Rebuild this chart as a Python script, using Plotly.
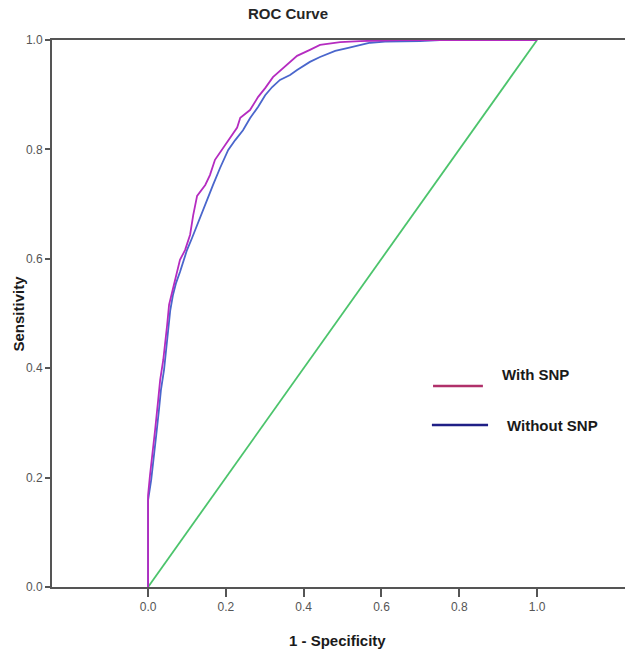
import plotly.graph_objects as go

# ROC curve data (1 - specificity, sensitivity)
with_snp_fpr = [0, 0, 0.005, 0.010, 0.018, 0.026, 0.031, 0.039, 0.044, 0.049, 0.054, 0.057,
                0.064, 0.072, 0.082, 0.095, 0.108, 0.116, 0.126, 0.147, 0.159, 0.172, 0.190,
                0.211, 0.229, 0.237, 0.262, 0.283, 0.301, 0.321, 0.347, 0.383, 0.416, 0.442,
                0.494, 0.545, 0.648, 1.0]
with_snp_tpr = [0, 0.168, 0.205, 0.241, 0.287, 0.342, 0.378, 0.415, 0.442, 0.479, 0.516, 0.525,
                0.543, 0.570, 0.598, 0.616, 0.644, 0.680, 0.715, 0.735, 0.753, 0.781, 0.799,
                0.821, 0.840, 0.858, 0.872, 0.896, 0.912, 0.932, 0.949, 0.971, 0.982, 0.991,
                0.996, 0.998, 1.0, 1.0]

without_snp_fpr = [0, 0, 0.008, 0.013, 0.021, 0.028, 0.033, 0.041, 0.046, 0.051, 0.057, 0.064,
                   0.072, 0.082, 0.090, 0.100, 0.113, 0.126, 0.139, 0.152, 0.167, 0.185, 0.206,
                   0.224, 0.244, 0.262, 0.283, 0.301, 0.319, 0.339, 0.365, 0.383, 0.416, 0.442,
                   0.481, 0.512, 0.545, 0.571, 0.609, 0.699, 0.75, 1.0]
without_snp_tpr = [0, 0.159, 0.196, 0.232, 0.278, 0.324, 0.360, 0.397, 0.433, 0.470, 0.506, 0.534,
                   0.556, 0.576, 0.594, 0.616, 0.638, 0.662, 0.686, 0.707, 0.735, 0.766, 0.799,
                   0.817, 0.835, 0.857, 0.878, 0.899, 0.914, 0.927, 0.936, 0.945, 0.960, 0.969,
                   0.980, 0.985, 0.991, 0.995, 0.997, 0.998, 1.0, 1.0]

ref_x = [0, 1]
ref_y = [0, 1]

tick_vals = [0.0, 0.2, 0.4, 0.6, 0.8, 1.0]
tick_text = ["0.0", "0.2", "0.4", "0.6", "0.8", "1.0"]

legend_names = ["With SNP", "Without SNP"]

FONT = "Liberation Sans, Arial, sans-serif"
TICKFONT = "Liberation Sans Narrow, Arial Narrow, Liberation Sans, Arial, sans-serif"

fig = go.Figure()
fig.add_trace(go.Scatter(x=ref_x, y=ref_y, mode="lines",
                         line=dict(color="#4cc46c", width=1.8), showlegend=False))
fig.add_trace(go.Scatter(x=without_snp_fpr, y=without_snp_tpr, mode="lines",
                         line=dict(color="#4a66cc", width=1.8), showlegend=False))
fig.add_trace(go.Scatter(x=with_snp_fpr, y=with_snp_tpr, mode="lines",
                         line=dict(color="#b52cc0", width=1.8), showlegend=False))

# manual legend (paper coords relative to plot area)
fig.add_shape(type="line", xref="paper", yref="paper", x0=0.665, x1=0.752, y0=0.3675, y1=0.3675,
              line=dict(color="#b0306a", width=2.5))
fig.add_shape(type="line", xref="paper", yref="paper", x0=0.663, x1=0.761, y0=0.296, y1=0.296,
              line=dict(color="#1f1f86", width=2.5))
fig.add_annotation(x=0.782, y=0.388, xref="paper", yref="paper", text="<b>" + legend_names[0] + "</b>",
                   showarrow=False, xanchor="left", yanchor="middle",
                   font=dict(size=15, color="#1a1a1a", family=FONT))
fig.add_annotation(x=0.791, y=0.296, xref="paper", yref="paper", text="<b>" + legend_names[1] + "</b>",
                   showarrow=False, xanchor="left", yanchor="middle",
                   font=dict(size=15, color="#1a1a1a", family=FONT))

# title and axis titles
fig.add_annotation(x=0.412, y=1.048, xref="paper", yref="paper", text="<b>ROC Curve</b>",
                   showarrow=False, xanchor="center", yanchor="middle", borderpad=0,
                   font=dict(size=15, color="#262626", family=FONT))
fig.add_annotation(x=0.499, y=-0.097, xref="paper", yref="paper", text="<b>1 - Specificity</b>",
                   showarrow=False, xanchor="center", yanchor="middle",
                   font=dict(size=15, color="#1a1a1a", family=FONT))
fig.add_annotation(x=-0.0593, y=0.5, xref="paper", yref="paper", text="<b>Sensitivity</b>",
                   showarrow=False, xanchor="center", yanchor="middle", textangle=-90,
                   font=dict(size=15, color="#1a1a1a", family=FONT))

fig.update_layout(
    width=625, height=654,
    margin=dict(l=52, r=0, t=40, b=67, autoexpand=False),
    paper_bgcolor="white", plot_bgcolor="white",
    font=dict(family=FONT, color="#333"),
    xaxis=dict(range=[-0.247, 1.226], tickvals=tick_vals, ticktext=tick_text, automargin=False,
               showgrid=False, zeroline=False, showline=True, linecolor="#555", linewidth=2,
               mirror=True, ticks="outside", ticklen=8, tickwidth=1.5, tickcolor="#555",
               tickfont=dict(size=12, color="#555", family=TICKFONT)),
    yaxis=dict(range=[0, 1], tickvals=tick_vals, ticktext=tick_text, automargin=False,
               showgrid=False, zeroline=False, showline=True, linecolor="#555", linewidth=2,
               ticks="outside", ticklen=5, tickwidth=1.5, tickcolor="#555",
               tickfont=dict(size=12, color="#555", family=TICKFONT)),
)

fig.write_html("out.html", config={"displayModeBar": False},
               post_script="document.body.style.margin='0';document.body.style.overflow='hidden';")
